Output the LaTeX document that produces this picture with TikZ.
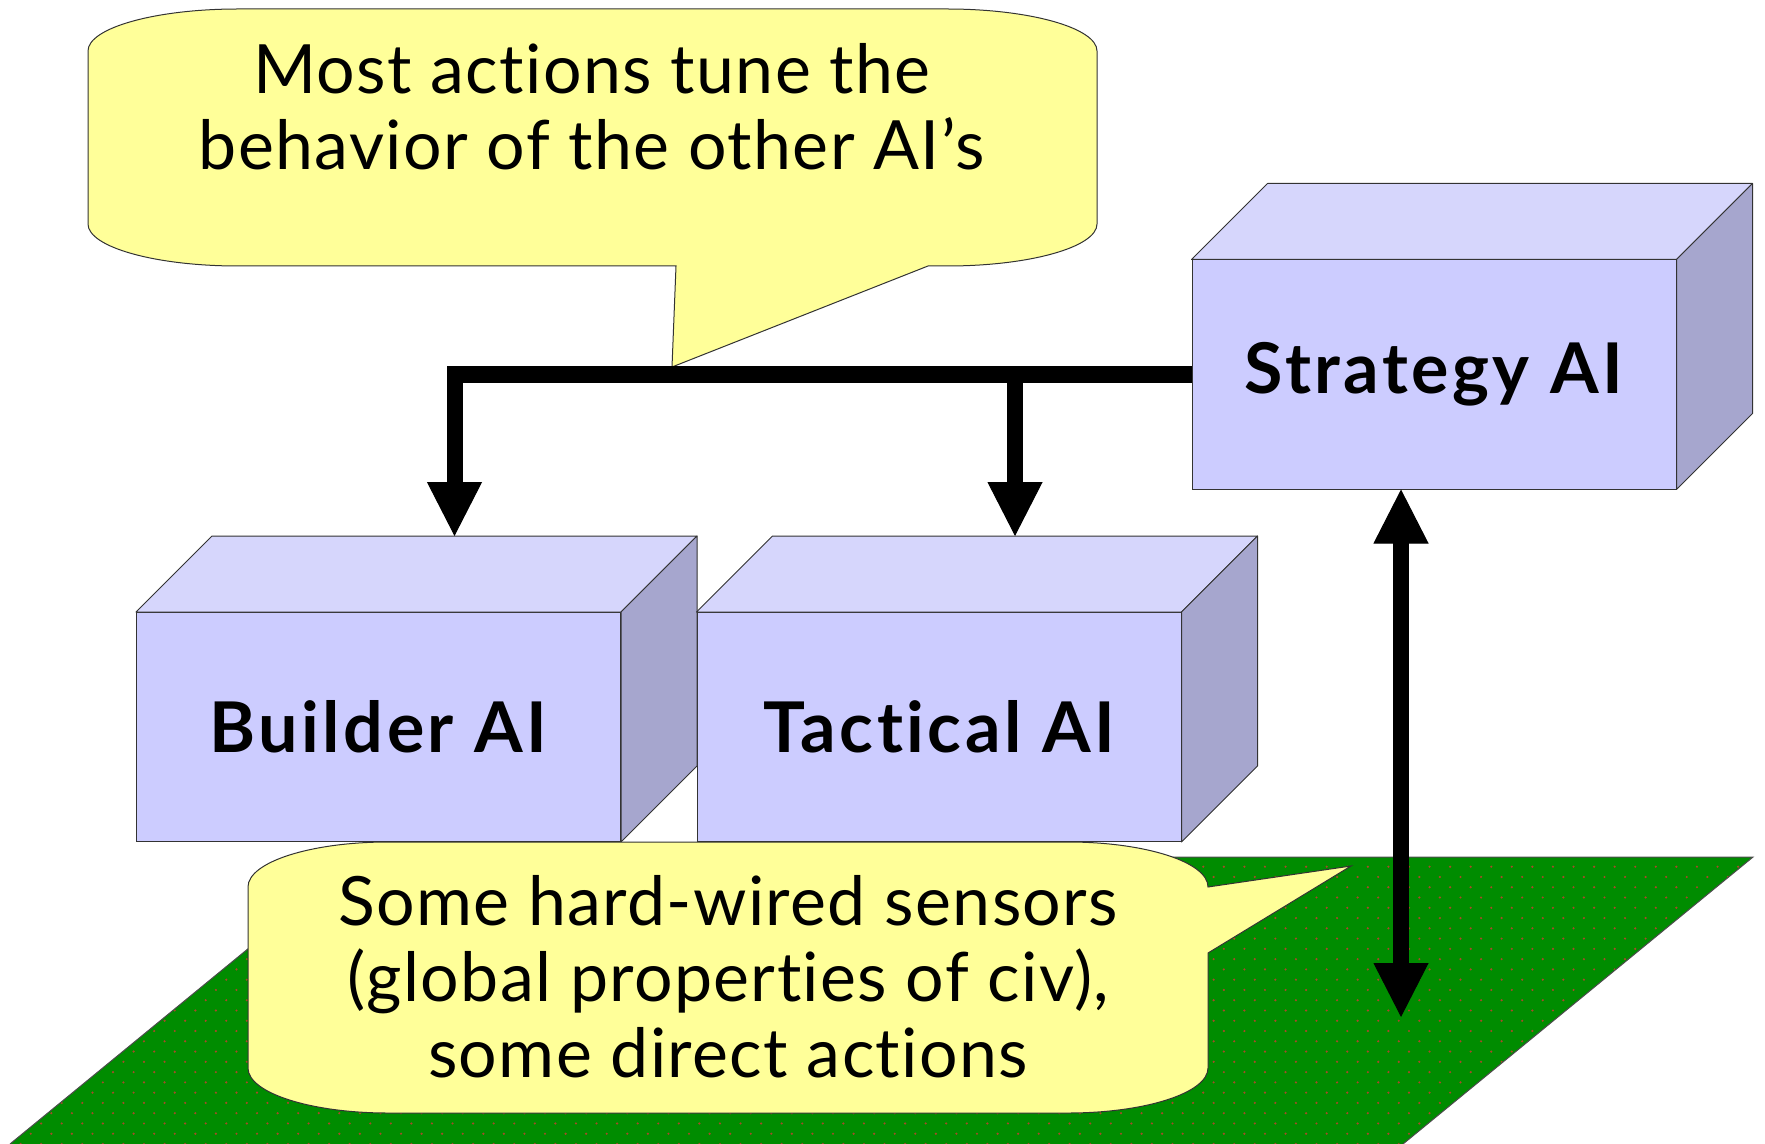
\documentclass[tikz,border=0pt]{standalone}
\usepackage{fontspec}
\setmainfont{Lato}[Ligatures=NoCommon]
\usetikzlibrary{arrows.meta,calc}

\definecolor{notefill}{RGB}{255,255,153}
\definecolor{cubefrontc}{RGB}{204,204,255}
\definecolor{cubetopc}{RGB}{214,214,252}
\definecolor{cubesidec}{RGB}{166,166,206}
\definecolor{groundc}{RGB}{0,140,0}
\definecolor{grounddot}{RGB}{165,75,40}

\begin{document}
\begin{tikzpicture}[x=0.5pt,y=-0.5pt,
  outline/.style={draw=black!80,line width=0.5pt},
  notebody/.style={outline,fill=notefill},
  notetext/.style={align=center,
    font=\fontsize{34}{38}\selectfont\addfontfeatures{LetterSpace=2}},
  cubefront/.style={outline,fill=cubefrontc,minimum width=242pt,minimum height=114.5pt,
    inner sep=0pt,font=\bfseries\fontsize{35}{40}\selectfont\addfontfeatures{LetterSpace=5}},
  cubetop/.style={outline,fill=cubetopc,line join=round},
  cubeside/.style={outline,fill=cubesidec,line join=round},
  bigtip/.tip={Triangle[width=27.5pt,length=27pt,line width=0.5pt]},
  bigarrow/.style={line width=8pt,-bigtip},
  bothways/.style={line width=8pt,bigtip-bigtip},
]
\useasboundingbox (0,0) rectangle (1765,1144);

% ground plane with its dotted texture
\fill[groundc] (360,857) -- (1753,857) -- (1403,1144) -- (10,1144) -- cycle;
\begin{scope}
  \clip (360,857) -- (1753,857) -- (1403,1144) -- (10,1144) -- cycle;
  \foreach \i in {0,...,27} {
    \pgfmathsetmacro\yy{866.7+10.27*\i}
    \pgfmathsetmacro\xo{mod(\i,2)==0 ? 10.2 : 0}
    \foreach \j in {0,...,85}
      \fill[grounddot] (\xo+20.57*\j,\yy) circle[radius=1.2];
  }
\end{scope}
\draw[black!70,line width=0.5pt] (360,857) -- (1753,857) -- (1403,1144);
\draw[black!70,line width=0.5pt] (10,1144) -- (360,857);

% the three AI modules, drawn as cubes
\node[cubefront] (builder)  at (378.5,727)  {Builder AI};
\node[cubefront] (tactical) at (939,727)    {Tactical AI};
\node[cubefront] (strategy) at (1434,374.5) {Strategy AI};
\foreach \b in {builder,tactical,strategy} {
  \draw[cubetop] (\b.north west) -- ($(\b.north west)+(76,-76)$)
    -- ($(\b.north east)+(76,-76)$) -- (\b.north east) -- cycle;
  \draw[cubeside] (\b.north east) -- ($(\b.north east)+(76,-76)$)
    -- ($(\b.south east)+(76,-76)$) -- (\b.south east) -- cycle;
}
\coordinate (builder-top)  at ($(builder.north)+(76,-76)$);
\coordinate (tactical-top) at ($(tactical.north)+(76,-76)$);
\coordinate (branch) at (tactical-top |- strategy.west);
\coordinate (strategy-foot) at ($(strategy.south)+(-33,0)$);
\coordinate (ground-point) at (1401,1017);

% upper speech bubble
\draw[notebody] (88,51) .. controls (88,28) and (155,9) .. (238,9)
  -- (947,9) .. controls (1030,9) and (1097,28) .. (1097,51)
  -- (1097,224) .. controls (1097,247) and (1030,266) .. (947,266)
  -- (928,266) -- (672,367) -- (676,266)
  -- (238,266) .. controls (155,266) and (88,247) .. (88,224) -- cycle;
\node[notetext] (note-top) at (592,107)
  {Most actions tune the\\behavior of the other AI’s};

% command lines from the strategy module
\draw[bigarrow] (strategy.west) -| (builder-top);
\draw[bigarrow] (branch) -- (tactical-top);

% lower speech bubble
\draw[notebody] (248,887) .. controls (248,862) and (311,842) .. (388,842)
  -- (1068,842) .. controls (1145,842) and (1208,862) .. (1208,887)
  -- (1351,866) -- (1208,953)
  -- (1208,1068) .. controls (1208,1093) and (1145,1113) .. (1068,1113)
  -- (388,1113) .. controls (311,1113) and (248,1093) .. (248,1068) -- cycle;
\node[notetext] (note-bottom) at (728,977)
  {Some hard-wired sensors\\(global properties of civ),\\some direct actions};

% link between strategy module and the world
\draw[bothways] (strategy-foot) -- (ground-point);
\end{tikzpicture}
\end{document}
